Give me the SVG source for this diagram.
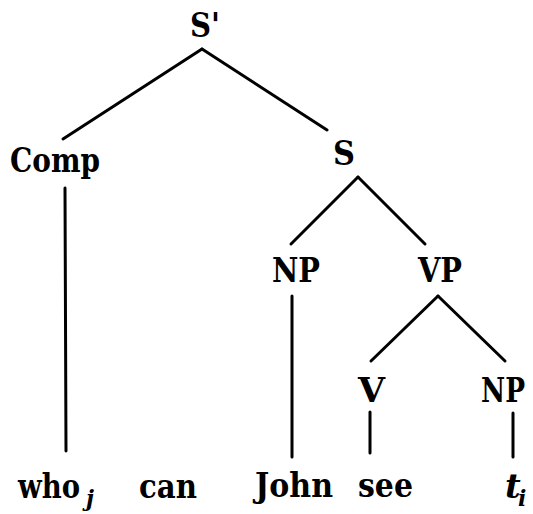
<svg xmlns="http://www.w3.org/2000/svg" width="533" height="514" viewBox="0 0 533 514">
<style>
.lbl{font-family:"DejaVu Serif","Liberation Serif",serif;font-weight:bold;font-size:34px;fill:#000}
.it{font-style:italic}
.sub{font-size:22px;font-style:italic}
.e{stroke:#000;stroke-width:3;fill:none;stroke-linecap:round}
</style>
<rect width="533" height="514" fill="#fff"/>
<g id="connectors">
<line class="e" x1="202" y1="49" x2="63" y2="139"/>
<line class="e" x1="202" y1="49" x2="327" y2="130"/>
<line class="e" x1="65" y1="188" x2="66" y2="451"/>
<line class="e" x1="358" y1="177" x2="291" y2="244"/>
<line class="e" x1="358" y1="177" x2="425" y2="244"/>
<line class="e" x1="292" y1="296" x2="292" y2="457"/>
<line class="e" x1="438" y1="296" x2="371" y2="361"/>
<line class="e" x1="438" y1="296" x2="505" y2="361"/>
<line class="e" x1="370" y1="412" x2="370" y2="453"/>
<line class="e" x1="513" y1="413" x2="513" y2="457"/>
</g>
<g id="n-Sbar"><text class="lbl" x="190" y="37" textLength="30" lengthAdjust="spacingAndGlyphs">S'</text></g>
<g id="n-Comp"><text class="lbl" x="10" y="172" textLength="90" lengthAdjust="spacingAndGlyphs">Comp</text></g>
<g id="n-S"><text class="lbl" x="333" y="165" textLength="22" lengthAdjust="spacingAndGlyphs">S</text></g>
<g id="n-NP1"><text class="lbl" x="272" y="282" textLength="48" lengthAdjust="spacingAndGlyphs">NP</text></g>
<g id="n-VP"><text class="lbl" x="418" y="282" textLength="44" lengthAdjust="spacingAndGlyphs">VP</text></g>
<g id="n-V"><text class="lbl" x="358" y="402" textLength="27" lengthAdjust="spacingAndGlyphs">V</text></g>
<g id="n-NP2"><text class="lbl" x="481" y="402" textLength="44" lengthAdjust="spacingAndGlyphs">NP</text></g>
<g id="w-who"><text class="lbl" x="18" y="498"><tspan textLength="62" lengthAdjust="spacingAndGlyphs">who</tspan><tspan class="sub" x="86" dy="8">j</tspan></text></g>
<g id="w-can"><text class="lbl" x="139" y="498" textLength="58" lengthAdjust="spacingAndGlyphs">can</text></g>
<g id="w-John"><text class="lbl" x="255" y="497" textLength="78" lengthAdjust="spacingAndGlyphs">John</text></g>
<g id="w-see"><text class="lbl" x="358" y="497" textLength="55" lengthAdjust="spacingAndGlyphs">see</text></g>
<g id="w-t"><text class="lbl it" x="505" y="498">t<tspan class="sub" x="518" dy="8">i</tspan></text></g>
</svg>
